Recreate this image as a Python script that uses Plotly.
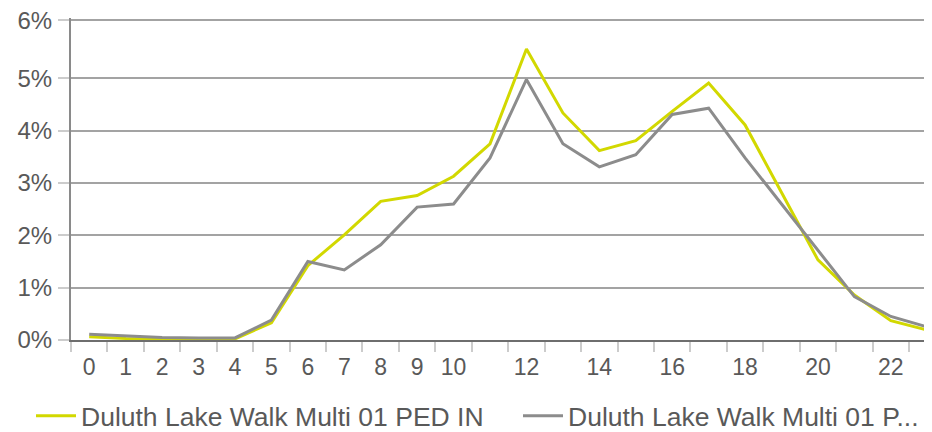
import plotly.graph_objects as go

hours = list(range(24))
ped_in = [0.06, 0.03, 0.02, 0.02, 0.02, 0.33, 1.42, 2.01, 2.65, 2.76, 3.13, 3.75,
          5.56, 4.34, 3.62, 3.81, 4.37, 4.91, 4.11, 2.82, 1.53, 0.86, 0.37, 0.19]
ped_out = [0.11, 0.08, 0.05, 0.04, 0.04, 0.38, 1.50, 1.34, 1.82, 2.54, 2.60, 3.48,
           4.98, 3.75, 3.31, 3.54, 4.31, 4.43, 3.48, 2.60, 1.72, 0.83, 0.45, 0.25]
series_names = ["Duluth Lake Walk Multi 01 PED IN", "Duluth Lake Walk Multi 01 P..."]
x_tick_vals = [0, 1, 2, 3, 4, 5, 6, 7, 8, 9, 10, 12, 14, 16, 18, 20, 22]
y_tick_vals = [0, 1, 2, 3, 4, 5, 6.11]
y_tick_text = ["0%", "1%", "2%", "3%", "4%", "5%", "6%"]
boundaries = [h - 0.5 for h in range(24)]

FONT = "Liberation Sans"
TXT = "#595959"
W, H = 924, 424  # page body margin of 8px fills the rest of the 932x432 window

fig = go.Figure()
fig.add_trace(go.Scatter(x=hours, y=ped_in, mode="lines", name=series_names[0],
                         line=dict(color="#d2d800", width=3), legend="legend"))
fig.add_trace(go.Scatter(x=hours, y=ped_out, mode="lines", name=series_names[1],
                         line=dict(color="#8c8c8c", width=3), legend="legend2"))

leg_common = dict(orientation="h", xref="container", yref="container",
                  xanchor="left", yanchor="middle", y=1 - 408 / H,
                  font=dict(size=26.5, family=FONT, color=TXT),
                  itemwidth=40, bgcolor="rgba(0,0,0,0)", borderwidth=0)

xr = [-0.5, 23.13]
fig.update_layout(
    width=W, height=H,
    margin=dict(l=63, r=0, t=10, b=92, autoexpand=False),
    paper_bgcolor="white", plot_bgcolor="white",
    font=dict(family=FONT, color=TXT),
    showlegend=True,
    legend=dict(x=23 / W, **leg_common),
    legend2=dict(x=510 / W, **leg_common),
    xaxis=dict(range=xr, tickmode="array", tickvals=x_tick_vals,
               ticktext=[str(v) for v in x_tick_vals], ticks="",
               tickfont=dict(size=23, family=FONT, color=TXT),
               ticklabelstandoff=5, ticklabeloverflow="allow",
               showgrid=False, zeroline=False, showline=True,
               linecolor="#6e6e6e", linewidth=2,
               minor=dict(tickmode="array", tickvals=boundaries, ticks="outside",
                          ticklen=10, tickwidth=2, tickcolor="#cccccc", showgrid=False)),
    xaxis2=dict(range=xr, overlaying="x", anchor="y", side="bottom",
                tickmode="array", tickvals=boundaries, ticks="inside",
                ticklen=10, tickwidth=2, tickcolor="#cccccc",
                showticklabels=False, showgrid=False, zeroline=False, showline=False),
    yaxis=dict(range=[0, 6.154], tickmode="array", tickvals=y_tick_vals,
               ticktext=y_tick_text, ticks="outside", ticklen=11, tickwidth=2,
               tickcolor="#cccccc", tickfont=dict(size=24, family=FONT, color=TXT),
               ticklabelstandoff=1, ticklabeloverflow="allow",
               showgrid=True, gridcolor="#a3a3a3", gridwidth=2,
               zeroline=False, showline=True, linecolor="#8a8a8a", linewidth=2),
)

fig.write_html("out.html")
